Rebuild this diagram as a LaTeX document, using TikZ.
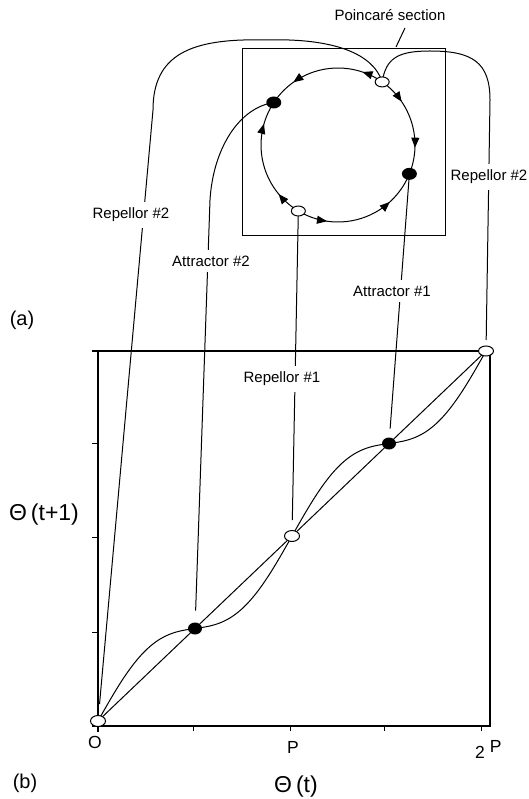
\documentclass[tikz,border=0pt]{standalone}
\usepackage{fontspec}
\setmainfont{Liberation Sans}
\usetikzlibrary{shapes.geometric,arrows.meta,decorations.markings,calc}
\pgfdeclarelayer{bg}
\pgfsetlayers{bg,main}
\tikzset{
 ln/.style={line width=1pt},
 axis/.style={line width=1.3pt},
 openpt/.style={ellipse,draw,fill=white,line width=1pt,minimum width=14pt,minimum height=10pt,inner sep=0pt},
 fullpt/.style={ellipse,fill=black,minimum width=15pt,minimum height=12pt,inner sep=0pt},
 lbl/.style={fill=white,inner xsep=2pt,inner ysep=6pt,font=\fontsize{15}{18}\selectfont},
 big/.style={font=\fontsize{20}{24}\selectfont},
 theta/.style={font=\fontsize{23}{27}\selectfont},
 tick/.style={font=\fontsize{17.5}{21}\selectfont},
 flow/.style 2 args={postaction={decorate},decoration={markings,
   mark=at position #1 with {\arrow{Triangle[length=10pt,width=8pt]}},
   mark=at position #2 with {\arrow{Triangle[length=10pt,width=8pt]}}}},
}
\begin{document}
\begin{tikzpicture}[x=1pt,y=-1pt]
\useasboundingbox (0,0) rectangle (529,799);
% Poincare box
\node[draw,line width=0.9pt,minimum width=203pt,minimum height=187pt,inner sep=0pt] (box) at (343.5,141.5) {};
\coordinate (c) at (338,145);
\node[openpt] (rt) at ($(c)+(-55:77)$) {};
\node[fullpt] (la) at ($(c)+(-146.5:77)$) {};
\node[fullpt] (ra) at ($(c)+(22:77)$) {};
\node[openpt] (rb) at ($(c)+(121:77)$) {};
% plot fixed points
\node[openpt,minimum width=15pt,minimum height=11pt] (o) at (98,721) {};
\node[fullpt,minimum width=14pt] (a2) at (195,628.5) {};
\node[openpt,minimum width=15pt,minimum height=11pt] (r1) at (292,536) {};
\node[fullpt,minimum width=14pt] (a1) at (389,443.5) {};
\node[openpt,minimum width=15pt] (rp) at (486,351) {};
% labels
\node[lbl,fill=none] (poinc) at (390,15) {Poincaré section};
\node[lbl] (rep2L) at (131,215) {Repellor \#2};
\node[lbl] (att2) at (211,261) {Attractor \#2};
\node[lbl] (att1) at (392,291) {Attractor \#1};
\node[lbl] (rep2R) at (489,177) {Repellor \#2};
\node[lbl] (rep1) at (282,379) {Repellor \#1};
\node[big] (la_a) at (22,320) {(a)};
\node[big] (la_b) at (25,783) {(b)};
\node[theta] (ylab) at (44,515) {Θ\hspace{4pt}(t+1)};
\node[theta] (xlab) at (296,787) {Θ\hspace{4pt}(t)};
\node[tick,anchor=base] (tO) at (95,748) {O};
\node[tick,anchor=base] (tP) at (293,753) {P};
\node[tick,anchor=base west,inner sep=0pt] (t2P) at (475,758) {2\hspace{5pt}\raisebox{6pt}{P}};
\coordinate (pA) at (405,28);
\coordinate (pB) at (396,47);
\begin{pgfonlayer}{bg}
 % circle flow
 \draw[ln,flow={0.18}{0.77}] (rt.center) arc[start angle=-55,end angle=-146.5,radius=77];
 \draw[ln,flow={0.27}{0.74}] (rt.center) arc[start angle=-55,end angle=22,radius=77];
 \draw[ln,flow={0.21}{0.81}] (rb.center) arc[start angle=121,end angle=213.5,radius=77];
 \draw[ln,flow={0.23}{0.74}] (rb.center) arc[start angle=121,end angle=22,radius=77];
 % axes
 \draw[axis] (92,351) -- (490,351) -- (490,726) -- (92,726);
 \draw[axis] (98,351) -- (98,732);
 \foreach \yy in {443,537,632} \draw[ln] (92,\yy) -- (98,\yy);
 \foreach \xx in {193,290,384,481} \draw[ln] (\xx,726) -- (\xx,731);
 % diagonal and map
 \draw[ln] (o.center) -- (rp.center);
 \draw[ln] plot[domain=0:1,samples=160,smooth] ({98+388*\x},{721-370*(\x+0.068*sin(720*\x))});
 % connectors
 \draw[ln,shorten >=17pt] (rt.center) .. controls (372,50) and (325,38) .. (265,40)
   .. controls (190,38) and (153,55) .. (153,110) -- (o.center);
 \draw[ln,shorten >=11pt] (rt.center) .. controls (386,58) and (398,51) .. (430,51)
   .. controls (472,51) and (490,62) .. (490,100) -- (rp.center);
 \draw[ln,shorten >=18pt] (la.center) .. controls (238,108) and (213,150) .. (210,200) -- (a2.center);
 \draw[ln,shorten >=15pt] (ra.center) -- (a1.center);
 \draw[ln,shorten >=16pt] (rb.center) -- (r1.center);
 \draw[ln] (pA) -- (pB);
\end{pgfonlayer}
\end{tikzpicture}
\end{document}
